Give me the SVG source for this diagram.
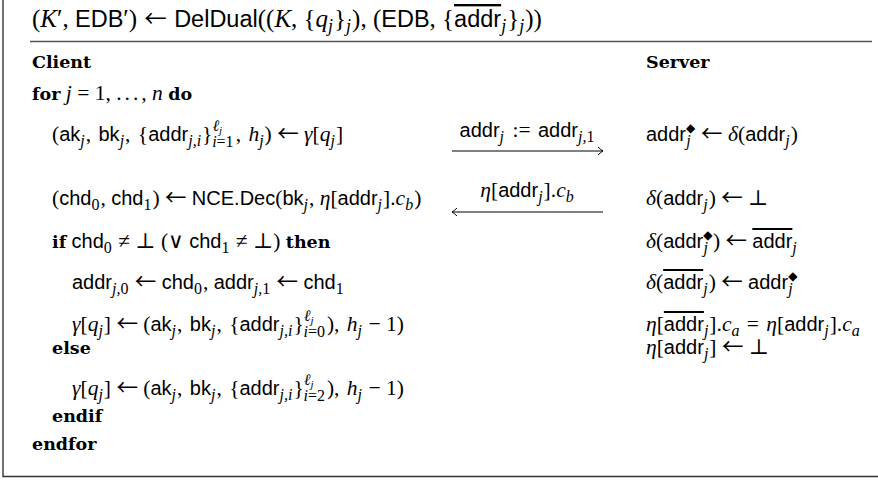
<svg xmlns="http://www.w3.org/2000/svg" width="878" height="480" viewBox="0 0 878 480">
<defs>
<style>
text { font-family: "Liberation Serif", "DejaVu Serif", serif; font-size: 21.5px; fill: #000; }
.ttl { font-size: 25px; }
.sf { font-family: "Liberation Sans", "DejaVu Sans", sans-serif; font-size: 20px; }
.ttl .sf { font-size: 23.5px; }
.i { font-style: italic; }
.k { font-family: "DejaVu Serif", serif; font-weight: bold; font-size: 17.5px; }
.sb { font-size: 16px; }
.ss { font-size: 11px; }
.tb { font-size: 18px; }
.dm { font-family: "DejaVu Sans", sans-serif; font-size: 12px; }
.ar { font-family: "Noto Sans CJK SC", "DejaVu Sans", sans-serif; font-size: 21.5px; }
.ttl .ar { font-size: 22.5px; }
.ov { text-decoration: overline; }
.frame { fill: none; stroke: #333; stroke-width: 1.4; }
.rule { stroke: #555; stroke-width: 1.3; }
.msg { stroke: #000; stroke-width: 1; fill: none; }
</style>
<marker id="ah" markerWidth="10" markerHeight="10" refX="0" refY="0" viewBox="-6 -5 7 10" orient="auto" markerUnits="userSpaceOnUse">
<path d="M-5,-4 Q-2,-1 0,0 Q-2,1 -5,4" fill="none" stroke="#000" stroke-width="1"/>
</marker>
</defs>
<rect width="878" height="480" fill="#fff"/>
<path class="frame" d="M3,0 V476.5 H878"/>
<line class="rule" x1="30" y1="41.5" x2="872" y2="41.5"/>

<g id="title">
<text class="ttl" x="32" y="27">(<tspan class="i">K</tspan>′, <tspan class="sf">EDB</tspan>′) <tspan class="ar" dx="1">←</tspan> <tspan class="sf" dx="1">DelDual</tspan>((<tspan class="i">K</tspan>, {<tspan class="i">q</tspan><tspan class="i tb" dy="5">j</tspan><tspan dx="1" dy="-5">}</tspan><tspan class="i tb" dy="5">j</tspan><tspan dx="1" dy="-5">), (</tspan><tspan class="sf">EDB</tspan>, {<tspan class="sf ov">addr</tspan><tspan class="i tb" dy="5">j</tspan><tspan dx="1" dy="-5">}</tspan><tspan class="i tb" dy="5">j</tspan><tspan dx="1" dy="-5">))</tspan></text>
</g>

<g id="client">
<text class="k" x="32" y="68">Client</text>
<text x="32" y="100"><tspan class="k">for</tspan> <tspan class="i">j</tspan> = 1, <tspan letter-spacing="3">...</tspan>, <tspan class="i">n</tspan> <tspan class="k">do</tspan></text>
<text x="52" y="141">(<tspan class="sf">ak</tspan><tspan class="i sb" dy="5">j</tspan><tspan dx="1" dy="-5">, </tspan><tspan class="sf" dx="2">bk</tspan><tspan class="i sb" dy="5">j</tspan><tspan dx="1" dy="-5">, </tspan><tspan dx="2">{</tspan><tspan class="sf">addr</tspan><tspan class="i sb" dy="5">j,i</tspan><tspan dx="1" dy="-5">}</tspan><tspan class="i sb" dy="-10">ℓ</tspan><tspan class="i ss" dy="3">j</tspan><tspan class="i sb" dx="-10" dy="13">i</tspan><tspan class="sb">=1</tspan><tspan dx="2" dy="-6">, </tspan><tspan class="i" dx="2">h</tspan><tspan class="i sb" dy="5">j</tspan><tspan dx="1" dy="-5">) </tspan><tspan class="ar">←</tspan> <tspan class="i">γ</tspan>[<tspan class="i">q</tspan><tspan class="i sb" dy="5">j</tspan><tspan dx="1" dy="-5">]</tspan></text>
<text x="52" y="205">(<tspan class="sf">chd</tspan><tspan class="sb" dy="5">0</tspan><tspan dx="1" dy="-5">, </tspan><tspan class="sf">chd</tspan><tspan class="sb" dy="5">1</tspan><tspan dx="1" dy="-5">) </tspan><tspan class="ar">←</tspan> <tspan class="sf">NCE.Dec</tspan>(<tspan class="sf">bk</tspan><tspan class="i sb" dy="5">j</tspan><tspan dx="1" dy="-5">, </tspan><tspan class="i">η</tspan>[<tspan class="sf">addr</tspan><tspan class="i sb" dy="5">j</tspan><tspan dx="1" dy="-5">].</tspan><tspan class="i">c</tspan><tspan class="i sb" dy="5">b</tspan><tspan dx="1" dy="-5">)</tspan></text>
<text x="52" y="248"><tspan class="k">if</tspan> <tspan class="sf">chd</tspan><tspan class="sb" dy="5">0</tspan><tspan dx="1" dy="-5"> ≠ ⊥ (∨ </tspan><tspan class="sf">chd</tspan><tspan class="sb" dy="5">1</tspan><tspan dx="1" dy="-5"> ≠ ⊥) </tspan><tspan class="k">then</tspan></text>
<text x="72" y="289"><tspan class="sf">addr</tspan><tspan class="i sb" dy="5">j,</tspan><tspan class="sb">0</tspan><tspan dx="1" dy="-5"> </tspan><tspan class="ar">←</tspan> <tspan class="sf">chd</tspan><tspan class="sb" dy="5">0</tspan><tspan dx="1" dy="-5">, </tspan><tspan class="sf">addr</tspan><tspan class="i sb" dy="5">j,</tspan><tspan class="sb">1</tspan><tspan dx="1" dy="-5"> </tspan><tspan class="ar">←</tspan> <tspan class="sf">chd</tspan><tspan class="sb" dy="5">1</tspan></text>
<text x="72" y="331"><tspan class="i">γ</tspan>[<tspan class="i">q</tspan><tspan class="i sb" dy="5">j</tspan><tspan dx="1" dy="-5">] </tspan><tspan class="ar">←</tspan> (<tspan class="sf">ak</tspan><tspan class="i sb" dy="5">j</tspan><tspan dx="1" dy="-5">, </tspan><tspan class="sf" dx="2">bk</tspan><tspan class="i sb" dy="5">j</tspan><tspan dx="1" dy="-5">, </tspan><tspan dx="2">{</tspan><tspan class="sf">addr</tspan><tspan class="i sb" dy="5">j,i</tspan><tspan dx="1" dy="-5">}</tspan><tspan class="i sb" dy="-10">ℓ</tspan><tspan class="i ss" dy="3">j</tspan><tspan class="i sb" dx="-10" dy="13">i</tspan><tspan class="sb">=0</tspan><tspan dx="2" dy="-6">), </tspan><tspan class="i" dx="2">h</tspan><tspan class="i sb" dy="5">j</tspan><tspan dx="1" dy="-5"> − 1)</tspan></text>
<text class="k" x="52" y="354">else</text>
<text x="72" y="395"><tspan class="i">γ</tspan>[<tspan class="i">q</tspan><tspan class="i sb" dy="5">j</tspan><tspan dx="1" dy="-5">] </tspan><tspan class="ar">←</tspan> (<tspan class="sf">ak</tspan><tspan class="i sb" dy="5">j</tspan><tspan dx="1" dy="-5">, </tspan><tspan class="sf" dx="2">bk</tspan><tspan class="i sb" dy="5">j</tspan><tspan dx="1" dy="-5">, </tspan><tspan dx="2">{</tspan><tspan class="sf">addr</tspan><tspan class="i sb" dy="5">j,i</tspan><tspan dx="1" dy="-5">}</tspan><tspan class="i sb" dy="-10">ℓ</tspan><tspan class="i ss" dy="3">j</tspan><tspan class="i sb" dx="-10" dy="13">i</tspan><tspan class="sb">=2</tspan><tspan dx="2" dy="-6">), </tspan><tspan class="i" dx="2">h</tspan><tspan class="i sb" dy="5">j</tspan><tspan dx="1" dy="-5"> − 1)</tspan></text>
<text class="k" x="52" y="422">endif</text>
<text class="k" x="32" y="450">endfor</text>
</g>

<g id="server">
<text class="k" x="646" y="68">Server</text>
<text x="646" y="141"><tspan class="sf">addr</tspan><tspan class="dm" dy="-9">◆</tspan><tspan class="i sb" dx="-9" dy="14">j</tspan><tspan dx="5" dy="-5"> </tspan><tspan class="ar">←</tspan> <tspan class="i">δ</tspan>(<tspan class="sf">addr</tspan><tspan class="i sb" dy="5">j</tspan><tspan dx="1" dy="-5">)</tspan></text>
<text x="646" y="205"><tspan class="i">δ</tspan>(<tspan class="sf">addr</tspan><tspan class="i sb" dy="5">j</tspan><tspan dx="1" dy="-5">) </tspan><tspan class="ar">←</tspan> ⊥</text>
<text x="646" y="248"><tspan class="i">δ</tspan>(<tspan class="sf">addr</tspan><tspan class="dm" dy="-9">◆</tspan><tspan class="i sb" dx="-9" dy="14">j</tspan><tspan dx="5" dy="-5">) </tspan><tspan class="ar">←</tspan> <tspan class="sf ov">addr</tspan><tspan class="i sb" dy="5">j</tspan></text>
<text x="646" y="289"><tspan class="i">δ</tspan>(<tspan class="sf ov">addr</tspan><tspan class="i sb" dy="5">j</tspan><tspan dx="1" dy="-5">) </tspan><tspan class="ar">←</tspan> <tspan class="sf">addr</tspan><tspan class="dm" dy="-9">◆</tspan><tspan class="i sb" dx="-9" dy="14">j</tspan></text>
<text x="646" y="331"><tspan class="i">η</tspan>[<tspan class="sf ov">addr</tspan><tspan class="i sb" dy="5">j</tspan><tspan dx="1" dy="-5">].</tspan><tspan class="i">c</tspan><tspan class="i sb" dy="5">a</tspan><tspan dx="2" dy="-5"> = </tspan><tspan class="i" dx="2">η</tspan>[<tspan class="sf">addr</tspan><tspan class="i sb" dy="5">j</tspan><tspan dx="1" dy="-5">].</tspan><tspan class="i">c</tspan><tspan class="i sb" dy="5">a</tspan></text>
<text x="646" y="354"><tspan class="i">η</tspan>[<tspan class="sf">addr</tspan><tspan class="i sb" dy="5">j</tspan><tspan dx="1" dy="-5">] </tspan><tspan class="ar">←</tspan> ⊥</text>
</g>

<g id="connectors">
<line class="msg" x1="452" y1="151" x2="603" y2="151" marker-end="url(#ah)"/>
<text x="527" y="137" text-anchor="middle"><tspan class="sf">addr</tspan><tspan class="i sb" dy="5">j</tspan><tspan dx="3" dy="-5"> := </tspan><tspan class="sf" dx="2">addr</tspan><tspan class="i sb" dy="5">j,</tspan><tspan class="sb">1</tspan></text>
<line class="msg" x1="603" y1="212" x2="452" y2="212" marker-end="url(#ah)"/>
<text x="527" y="197" text-anchor="middle"><tspan class="i">η</tspan>[<tspan class="sf">addr</tspan><tspan class="i sb" dy="5">j</tspan><tspan dx="1" dy="-5">].</tspan><tspan class="i">c</tspan><tspan class="i sb" dy="5">b</tspan></text>
</g>
</svg>
